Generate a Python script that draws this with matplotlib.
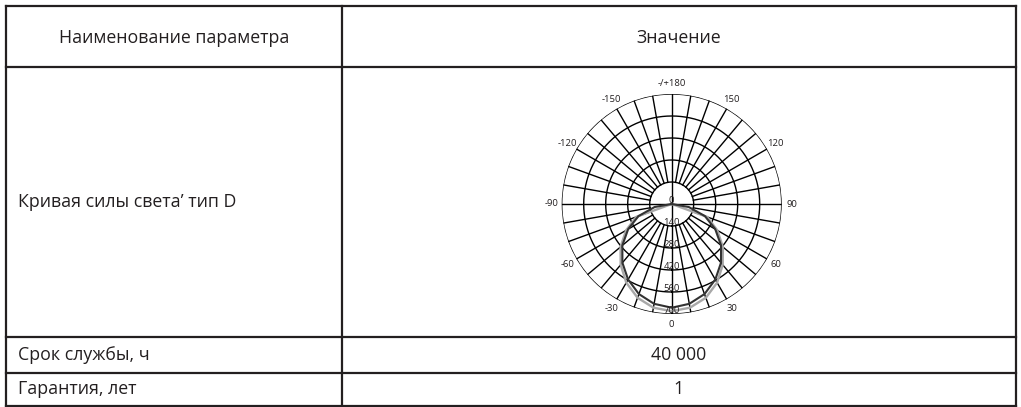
import numpy as np
import matplotlib
matplotlib.use("Agg")
import matplotlib.pyplot as plt

plt.rcParams['font.family'] = ['Open Sans', 'DejaVu Sans']

# ---- table content ----
header = ["Наименование параметра", "Значение"]
row_labels = ["Кривая силы света’ тип D", "Срок службы, ч", "Гарантия, лет"]
row_values = [None, "40 000", "1"]

# ---- polar diagram data ----
ring_values = [140, 280, 420, 560, 700]
ring_labels = ["140", "280", "420", "560", "700"]
angle_tick_values = [0, 30, 60, 90, 120, 150, 180, -150, -120, -90, -60, -30]
angle_tick_labels = ["0", "30", "60", "90", "120", "150", "-/+180", "-150", "-120", "-90", "-60", "-30"]
curve_angles = [-90, -80, -70, -60, -50, -40, -30, -20, -10, 0, 10, 20, 30, 40, 50, 60, 70, 80, 90]
curve_dark = [0, 110, 225, 320, 410, 488, 555, 610, 645, 660, 645, 610, 555, 488, 410, 320, 225, 110, 0]
curve_light = [0, 0, 240, 335, 425, 505, 578, 635, 670, 682, 670, 635, 578, 505, 425, 335, 240, 0, 0]

W, H = 1021, 407
fig = plt.figure(figsize=(W / 100, H / 100), dpi=100)
fig.patch.set_facecolor('white')

# table axes in pixel coordinates
tab = fig.add_axes([0, 0, 1, 1])
tab.set_xlim(0, W)
tab.set_ylim(H, 0)
tab.axis('off')

x_left, x_mid, x_right = 6, 341.5, 1016
y_lines = [6, 66.5, 337, 372.7, 406]
lc = '#231f20'
lw = 1.6
for y in y_lines:
    tab.plot([x_left, x_right], [y, y], color=lc, lw=lw, solid_capstyle='projecting')
for x in [x_left, x_mid, x_right]:
    tab.plot([x, x], [y_lines[0], y_lines[-1]], color=lc, lw=lw, solid_capstyle='projecting')

fs = 12.8
tc = '#231f20'
tab.text((x_left + x_mid) / 2, 38, header[0], ha='center', va='center', fontsize=fs, color=tc)
tab.text((x_mid + x_right) / 2, 38, header[1], ha='center', va='center', fontsize=fs, color=tc)
row_centers = [(y_lines[i + 1] + y_lines[i + 2]) / 2 for i in range(3)]
for lab, val, yc in zip(row_labels, row_values, row_centers):
    tab.text(18, yc, lab, ha='left', va='center', fontsize=fs, color=tc)
    if val is not None:
        tab.text((x_mid + x_right) / 2, yc, val, ha='center', va='center', fontsize=fs, color=tc)

# polar diagram
cx, cy, R = 671.7, 204, 110
pax = fig.add_axes([(cx - R) / W, (H - cy - R) / H, 2 * R / W, 2 * R / H], projection='polar')
pax.set_theta_zero_location('S')
pax.set_theta_direction(1)
pax.set_ylim(0, ring_values[-1])
pax.grid(False)
pax.set_xticks([])
pax.set_yticks([])
pax.spines['polar'].set_visible(False)
pax.patch.set_alpha(0)

glw = 1.0
th = np.linspace(0, 2 * np.pi, 361)
for r in ring_values:
    pax.plot(th, np.full_like(th, r), color='black', lw=glw)
for a in range(0, 360, 10):
    t = np.deg2rad(a)
    r0 = 0 if a % 90 == 0 else ring_values[0]
    pax.plot([t, t], [r0, ring_values[-1]], color='black', lw=glw)

ca = np.deg2rad(curve_angles)
pax.plot(ca, curve_light, color='#a8a8a8', lw=1.7)
pax.plot(ca, curve_dark, color='#333333', lw=1.5)

lfs = 6.8
for v, lab in zip(angle_tick_values, angle_tick_labels):
    pax.text(np.deg2rad(v), 765, lab, ha='center', va='center', fontsize=lfs, color=tc, clip_on=False)
pax.text(np.pi, 22, "0", ha='center', va='center', fontsize=lfs, color=tc, zorder=5)
for v, lab in zip(ring_values, ring_labels):
    pax.text(0, v - 20, lab, ha='center', va='center', fontsize=lfs, color=tc, zorder=5)

fig.savefig('out.png', dpi=100, facecolor='white')
